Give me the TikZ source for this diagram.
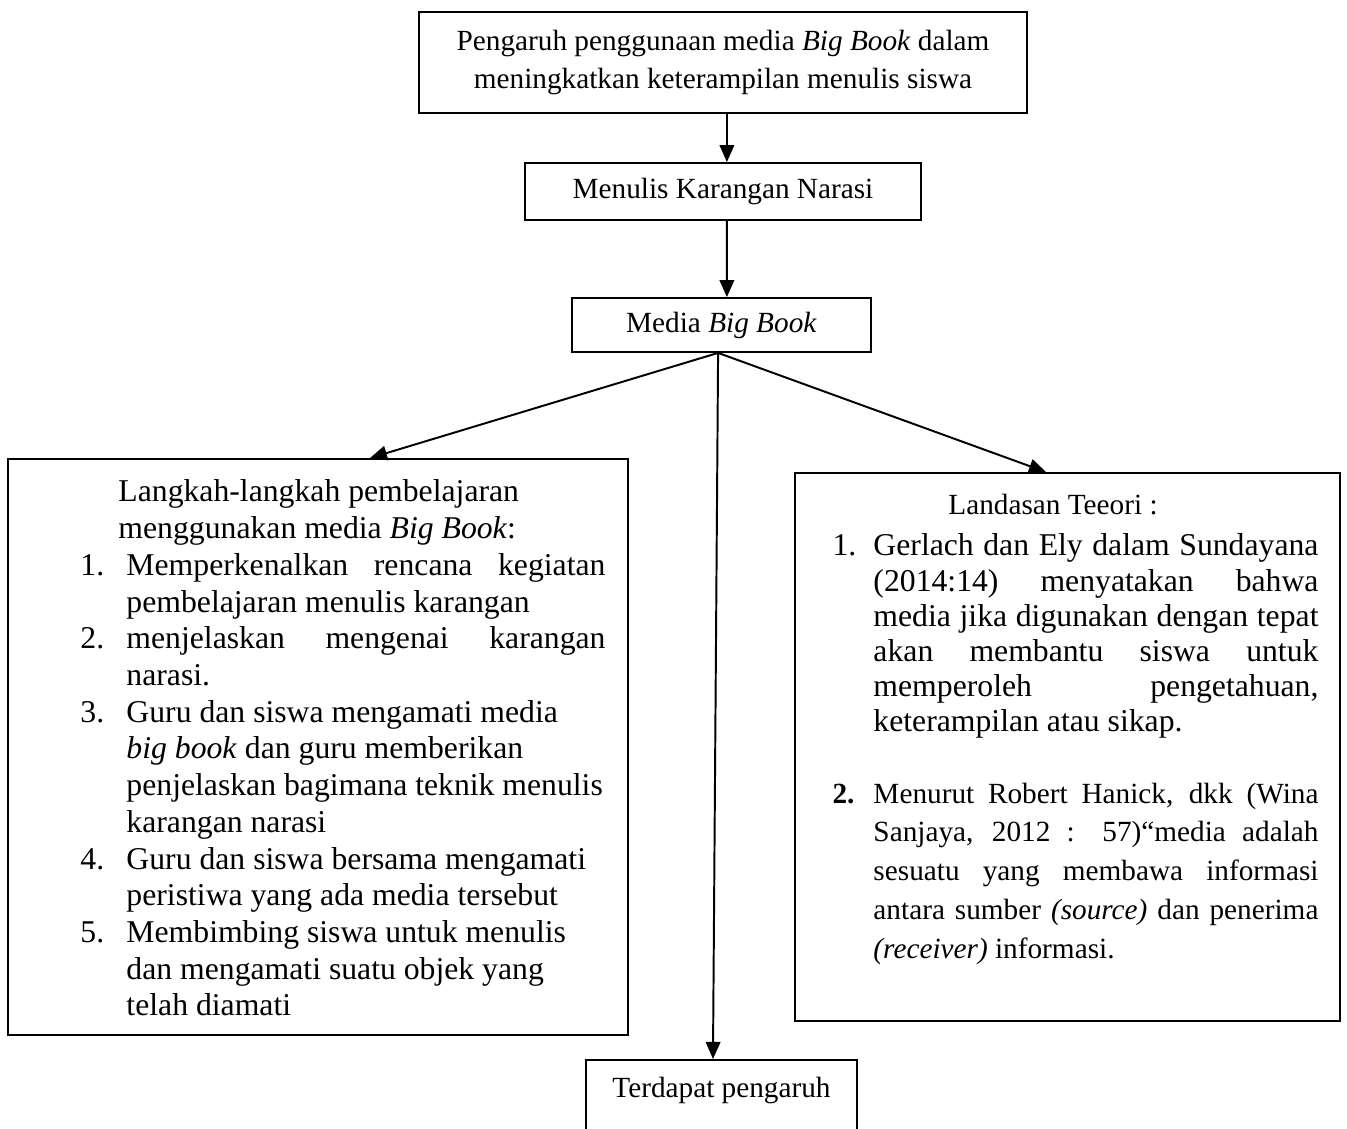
\documentclass[tikz,border=0pt]{standalone}
\usepackage{fontspec}
\setmainfont{Liberation Serif}
\usetikzlibrary{arrows.meta}
\newdimen\pxu \pxu=0.41pt
\newcommand\lnum[1]{\makebox[46\pxu][l]{#1}}
\newcommand\lind{\hspace*{46\pxu}}
\newcommand\ljust[1]{\makebox[479\pxu][s]{\spaceskip=0pt\xspaceskip=0pt #1}}
\newcommand\rnum[1]{\makebox[41\pxu][l]{#1}}
\newcommand\rind{\hspace*{41\pxu}}
\newcommand\rjust[1]{\makebox[445\pxu][s]{\spaceskip=0pt\xspaceskip=0pt #1}}
\begin{document}
\begin{tikzpicture}[x=0.41pt,y=-0.41pt,
  box/.style={draw, line width=0.75pt, inner sep=0pt, align=flush center,
    font=\fontsize{12}{15.2}\selectfont},
  blocktext/.style={anchor=base west, inner sep=0pt, text width=700\pxu, align=flush left},
  arr/.style={line width=0.8pt, -{Triangle[length=7pt,width=6pt]}}]
\clip (0,0) rectangle (1347,1129);
\fill[white] (0,0) rectangle (1347,1129);

\node[box, minimum width=608\pxu, minimum height=101\pxu] (judul) at (723,62.5)
  {Pengaruh penggunaan media \textit{Big Book} dalam\\meningkatkan keterampilan menulis siswa};
\node[box, minimum width=396\pxu, minimum height=57\pxu] (menulis) at (723,191.5)
  {Menulis Karangan Narasi};
\node[box, minimum width=299\pxu, minimum height=54\pxu] (media) at (721.5,325)
  {Media \textit{Big Book}};
\node[box, minimum width=620\pxu, minimum height=576\pxu] (langkah) at (318,747) {};
\node[box, minimum width=545\pxu, minimum height=548\pxu] (teori) at (1067.5,747) {};
\node[box, minimum width=271\pxu, minimum height=130\pxu, anchor=north] (hasil) at (721.5,1059) {};
\node[font=\fontsize{12}{15.2}\selectfont, inner sep=0pt] (hasilteks) at (721.5,1090) {Terdapat pengaruh};

\node[blocktext, font=\fontsize{13}{15.05}\selectfont] (langkahisi) at (80,502) {%
\hspace*{38\pxu}Langkah-langkah pembelajaran\\
\hspace*{38\pxu}menggunakan media \textit{Big Book}:\\
\lnum{1.}\ljust{Memperkenalkan rencana kegiatan}\\
\lind pembelajaran menulis karangan\\
\lnum{2.}\ljust{menjelaskan mengenai karangan}\\
\lind narasi.\\
\lnum{3.}Guru dan siswa mengamati media\\
\lind\textit{big book} dan guru memberikan\\
\lind penjelaskan bagimana teknik menulis\\
\lind karangan narasi\\
\lnum{4.}Guru dan siswa bersama mengamati\\
\lind peristiwa yang ada media tersebut\\
\lnum{5.}Membimbing siswa untuk menulis\\
\lind dan mengamati suatu objek yang\\
\lind telah diamati};

\node[font=\fontsize{12}{15.2}\selectfont, inner sep=0pt] (teorijudul) at (1053,505) {Landasan Teeori :};

\node[blocktext, font=\fontsize{13}{14.4}\selectfont] (teorisatu) at (832,556) {%
\rnum{1.}\rjust{Gerlach dan Ely dalam Sundayana}\\
\rind\rjust{(2014:14) menyatakan bahwa}\\
\rind\rjust{media jika digunakan dengan tepat}\\
\rind\rjust{akan membantu siswa untuk}\\
\rind\rjust{memperoleh pengetahuan,}\\
\rind keterampilan atau sikap.};

\node[blocktext, font=\fontsize{12}{15.9}\selectfont] (teoridua) at (832,803) {%
\rnum{\textbf{2.}}\rjust{Menurut Robert Hanick, dkk (Wina}\\
\rind\rjust{Sanjaya, 2012 : 57)``media adalah}\\
\rind\rjust{sesuatu yang membawa informasi}\\
\rind\rjust{antara sumber \textit{(source)} dan penerima}\\
\rind\textit{(receiver)} informasi.};

\draw[arr] ([xshift=1.6pt]judul.south) -- ([xshift=1.6pt]menulis.north);
\draw[arr] ([xshift=1.6pt]menulis.south) -- ([xshift=2.2pt]media.north);
\draw[arr] ([xshift=-1.4pt]media.south) -- ([xshift=21.3pt]langkah.north);
\draw[arr] ([xshift=-1.4pt]media.south) -- ([xshift=-8.8pt]teori.north);
\draw[arr] ([xshift=-1.4pt]media.south) -- ([xshift=-3.5pt]hasil.north);
\end{tikzpicture}
\end{document}
